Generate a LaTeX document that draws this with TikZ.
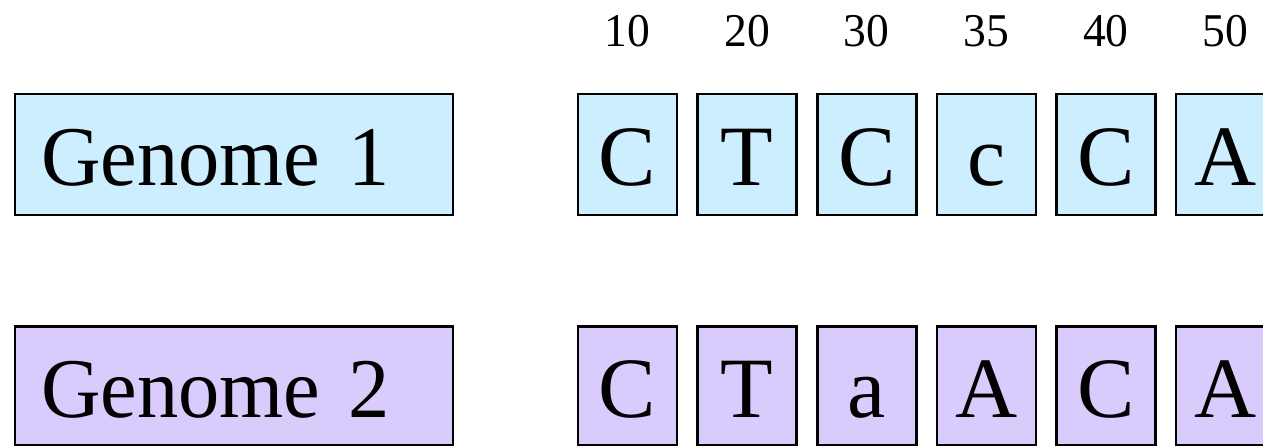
\documentclass[tikz,border=0pt]{standalone}
\usepackage{fontspec}
\setmainfont{Liberation Serif}
\newfontfamily\narrowserif[FakeStretch=0.97]{Liberation Serif}
\definecolor{gblue}{RGB}{204,238,254}
\definecolor{gpurple}{RGB}{217,204,252}
\tikzset{
  cell/.style={draw=black, line width=2.6pt, minimum width=99pt, minimum height=121pt,
    inner sep=0pt, text height=63pt, text depth=0pt,
    font=\fontsize{86}{100}\selectfont},
  gbox/.style={draw=black, line width=2.6pt, minimum width=438pt, minimum height=121pt,
    inner xsep=26pt, inner ysep=0pt, text width=386pt, align=left,
    text height=63pt, text depth=0pt, font=\narrowserif\fontsize{85}{100}\selectfont},
  poslabel/.style={anchor=base, inner sep=0pt, font=\narrowserif\fontsize{47}{50}\selectfont},
}
\begin{document}
\begin{tikzpicture}[x=1pt,y=-1pt]
\useasboundingbox (0,0) rectangle (1263,446);
% position labels
\node[poslabel] (p1) at (627.5,47) {10};
\node[poslabel] (p2) at (747.1,47) {20};
\node[poslabel] (p3) at (866.7,47) {30};
\node[poslabel] (p4) at (986.3,47) {35};
\node[poslabel] (p5) at (1105.9,47) {40};
\node[poslabel] (p6) at (1225.5,47) {50};
% genome 1
\node[gbox, fill=gblue] (g1) at (234,154.5) {Genome 1};
\node[cell, fill=gblue] (a1) at (627.5,154.5) {C};
\node[cell, fill=gblue] (a2) at (747.1,154.5) {T};
\node[cell, fill=gblue] (a3) at (866.7,154.5) {C};
\node[cell, fill=gblue] (a4) at (986.3,154.5) {c};
\node[cell, fill=gblue] (a5) at (1105.9,154.5) {C};
\node[cell, fill=gblue] (a6) at (1225.5,154.5) {A};
% genome 2
\node[gbox, fill=gpurple, minimum height=119pt] (g2) at (234,386) {Genome 2};
\node[cell, fill=gpurple, minimum height=119pt] (b1) at (627.5,386) {C};
\node[cell, fill=gpurple, minimum height=119pt] (b2) at (747.1,386) {T};
\node[cell, fill=gpurple, minimum height=119pt] (b3) at (866.7,386) {a};
\node[cell, fill=gpurple, minimum height=119pt] (b4) at (986.3,386) {A};
\node[cell, fill=gpurple, minimum height=119pt] (b5) at (1105.9,386) {C};
\node[cell, fill=gpurple, minimum height=119pt] (b6) at (1225.5,386) {A};
\end{tikzpicture}
\end{document}
